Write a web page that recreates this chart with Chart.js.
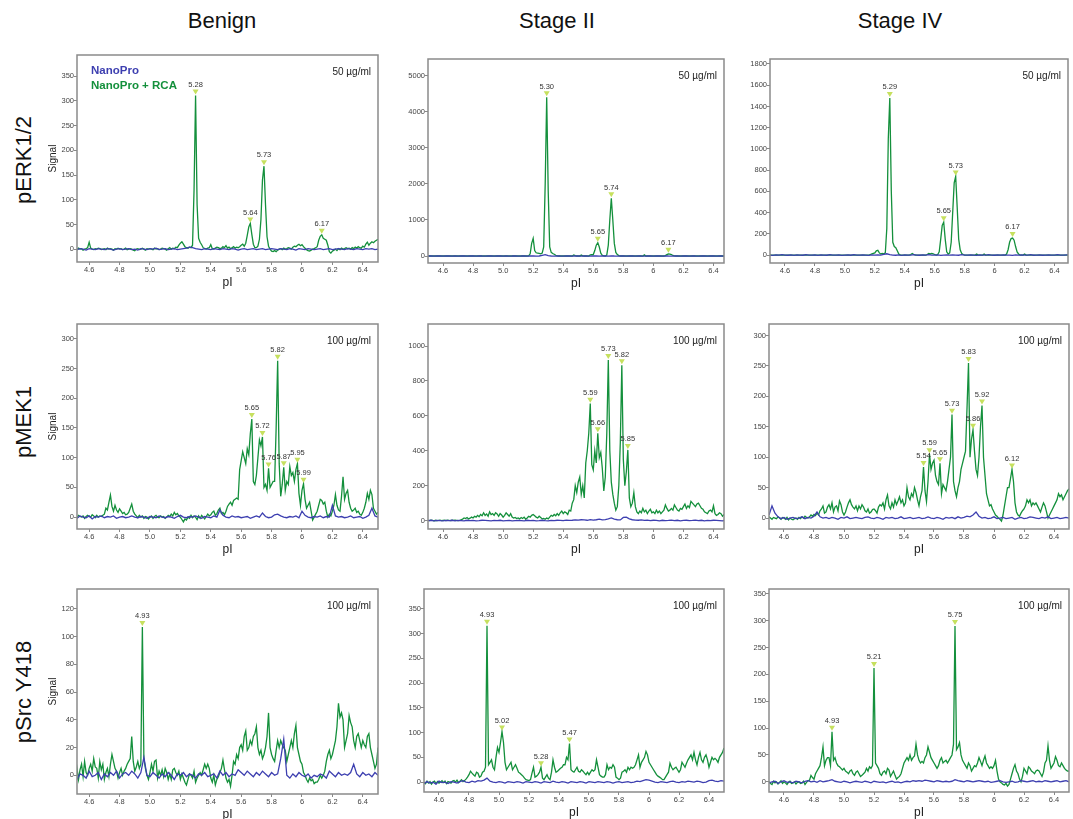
<!DOCTYPE html>
<html>
<head>
<meta charset="utf-8">
<title>NanoPro pI profiles</title>
<script src="https://cdn.jsdelivr.net/npm/chart.js@4.4.1/dist/chart.umd.min.js"></script>
<style>
  html, body { margin: 0; padding: 0; background: #fff; }
  body { position: relative; width: 1073px; height: 819px; overflow: hidden; font-family: "Liberation Sans", Arial, sans-serif; }
  .col-title { position: absolute; top: 8px; font-size: 22px; color: #111; transform: translateX(-50%); white-space: nowrap; }
  .row-title { position: absolute; left: 24px; font-size: 22px; color: #111; white-space: nowrap; transform: translate(-50%, -50%) rotate(-90deg); }
  canvas { position: absolute; }
</style>
</head>
<body>
<script>
// sampling grid of the traces (pI)
const pI = [
  4.50,4.51,4.52,4.53,4.54,4.55,4.56,4.57,4.58,4.59,
  4.60,4.61,4.62,4.63,4.64,4.65,4.66,4.67,4.68,4.69,
  4.70,4.71,4.72,4.73,4.74,4.75,4.76,4.77,4.78,4.79,
  4.80,4.81,4.82,4.83,4.84,4.85,4.86,4.87,4.88,4.89,
  4.90,4.91,4.92,4.93,4.94,4.95,4.96,4.97,4.98,4.99,
  5.00,5.01,5.02,5.03,5.04,5.05,5.06,5.07,5.08,5.09,
  5.10,5.11,5.12,5.13,5.14,5.15,5.16,5.17,5.18,5.19,
  5.20,5.21,5.22,5.23,5.24,5.25,5.26,5.27,5.28,5.29,
  5.30,5.31,5.32,5.33,5.34,5.35,5.36,5.37,5.38,5.39,
  5.40,5.41,5.42,5.43,5.44,5.45,5.46,5.47,5.48,5.49,
  5.50,5.51,5.52,5.53,5.54,5.55,5.56,5.57,5.58,5.59,
  5.60,5.61,5.62,5.63,5.64,5.65,5.66,5.67,5.68,5.69,
  5.70,5.71,5.72,5.73,5.74,5.75,5.76,5.77,5.78,5.79,
  5.80,5.81,5.82,5.83,5.84,5.85,5.86,5.87,5.88,5.89,
  5.90,5.91,5.92,5.93,5.94,5.95,5.96,5.97,5.98,5.99,
  6.00,6.01,6.02,6.03,6.04,6.05,6.06,6.07,6.08,6.09,
  6.10,6.11,6.12,6.13,6.14,6.15,6.16,6.17,6.18,6.19,
  6.20,6.21,6.22,6.23,6.24,6.25,6.26,6.27,6.28,6.29,
  6.30,6.31,6.32,6.33,6.34,6.35,6.36,6.37,6.38,6.39,
  6.40,6.41,6.42,6.43,6.44,6.45,6.46,6.47,6.48,6.49,
  6.50
];
// coarser grid for the NanoPro-only traces
const pINano = [
  4.50,4.52,4.54,4.56,4.58,4.60,4.62,4.64,4.66,4.68,
  4.70,4.72,4.74,4.76,4.78,4.80,4.82,4.84,4.86,4.88,
  4.90,4.92,4.94,4.96,4.98,5.00,5.02,5.04,5.06,5.08,
  5.10,5.12,5.14,5.16,5.18,5.20,5.22,5.24,5.26,5.28,
  5.30,5.32,5.34,5.36,5.38,5.40,5.42,5.44,5.46,5.48,
  5.50,5.52,5.54,5.56,5.58,5.60,5.62,5.64,5.66,5.68,
  5.70,5.72,5.74,5.76,5.78,5.80,5.82,5.84,5.86,5.88,
  5.90,5.92,5.94,5.96,5.98,6.00,6.02,6.04,6.06,6.08,
  6.10,6.12,6.14,6.16,6.18,6.20,6.22,6.24,6.26,6.28,
  6.30,6.32,6.34,6.36,6.38,6.40,6.42,6.44,6.46,6.48,
  6.50
];

const columnNames = ['Benign', 'Stage II', 'Stage IV'];
const rowNames = ['pERK1/2', 'pMEK1', 'pSrc Y418'];
const seriesNames = ['NanoPro', 'NanoPro + RCA'];
const concentrations = ['50 µg/ml', '100 µg/ml', '100 µg/ml'];
const xTickValues = [4.6, 4.8, 5.0, 5.2, 5.4, 5.6, 5.8, 6.0, 6.2, 6.4];
const xTickLabels = ['4.6', '4.8', '5.0', '5.2', '5.4', '5.6', '5.8', '6', '6.2', '6.4'];

// ---- pERK1/2 ----
const erkBenignRca = [
  0,1,-1,2,0,1,-2,0,1,3,
  14,2,0,-1,1,0,2,1,-1,0,
  1,-1,2,0,1,0,-2,1,0,2,
  0,1,-1,0,2,-1,0,1,0,-2,
  -3,0,1,-1,0,2,0,-2,1,0,
  1,0,-1,2,0,1,-1,0,2,1,
  0,-2,1,3,0,2,1,4,3,8,
  12,15,10,5,3,2,4,3,8,120,
  311,90,22,14,9,3,1,0,2,3,
  9,1,0,2,4,3,1,2,5,3,
  7,2,4,1,3,5,2,4,3,5,
  8,10,6,12,28,45,52,30,10,3,
  3,6,20,60,140,168,90,25,6,0,
  -4,-5,-3,-5,-2,0,1,-1,2,0,
  1,3,2,0,4,6,5,8,10,7,
  9,5,2,-1,-3,-4,-2,0,1,3,
  5,18,26,29,22,20,18,8,-5,-8,
  -4,-2,0,-3,1,-1,2,0,1,3,
  1,2,0,3,1,4,2,5,3,2,
  6,4,10,14,8,12,15,13,16,18,
  20
];
const erkBenignNano = [
  0,-1,1,0,-2,1,0,-1,1,0,
  -1,1,0,-2,0,1,-1,0,1,-1,
  0,-2,1,0,-1,1,0,2,-1,0,
  1,-1,0,1,-1,0,1,2,4,3,
  1,0,-1,1,0,-1,1,0,-1,1,
  0,-1,1,0,-2,0,1,-1,0,1,
  -1,0,1,-1,0,1,0,-1,1,0,
  -1,1,0,-2,1,0,-1,1,0,-1,
  0,1,-1,0,1,-1,0,1,0,-1,
  1,0,-1,1,0,-1,1,0,1,-1,
  0
];
const erkBenignPeaks = [[5.30, '5.28'], [5.66, '5.64'], [5.75, '5.73'], [6.13, '6.17']];

const erkStage2Rca = [
  0,0,0,0,0,0,0,0,0,0,
  0,0,0,0,0,0,0,0,0,0,
  0,0,0,0,0,0,0,0,0,0,
  0,0,0,0,0,0,0,0,0,0,
  0,0,0,0,0,0,0,0,0,0,
  0,0,0,0,0,0,0,0,0,0,
  0,0,0,0,0,0,0,5,60,350,
  490,150,90,80,70,60,80,250,2000,4400,
  1800,250,100,70,50,20,5,0,0,0,
  0,0,0,0,0,0,0,30,10,0,
  0,0,25,5,0,0,0,0,30,35,
  40,150,300,370,250,80,20,5,0,30,
  300,1000,1600,1000,350,100,40,10,0,0,
  0,0,0,0,0,0,0,0,0,0,
  0,0,0,0,30,0,0,0,0,0,
  0,0,0,0,0,0,0,0,10,40,
  60,55,40,15,5,0,0,0,0,0,
  0,0,0,0,0,0,0,0,0,0,
  0,0,0,0,0,0,0,0,0,0,
  0,0,0,0,0,0,0,0,0,0,
  0
];
const erkStage2Nano = [
  0,5,-4,3,0,-5,4,0,-3,5,
  -2,4,0,-5,3,0,-4,5,0,-3,
  4,0,-5,3,0,-4,5,-2,0,4,
  -3,0,5,-4,0,3,-5,0,20,40,
  10,0,-4,5,0,-3,4,0,-5,3,
  0,-4,5,0,-3,4,0,-5,3,0,
  -4,5,0,-3,4,0,-5,3,0,-4,
  5,0,-3,4,0,-5,3,0,-4,5,
  0,-3,4,0,-5,3,0,-4,5,0,
  -3,4,0,-5,3,0,-4,5,0,-3,
  0
];
const erkStage2Peaks = [[5.29, '5.30'], [5.63, '5.65'], [5.72, '5.74'], [6.10, '6.17']];

const erkStage4Rca = [
  0,0,0,0,0,0,0,0,0,0,
  0,0,0,0,0,0,0,0,0,0,
  0,0,0,0,0,0,0,0,0,0,
  0,0,0,0,0,0,0,0,0,0,
  0,0,0,0,0,0,0,0,0,0,
  0,0,0,0,0,0,0,0,0,0,
  0,0,0,0,0,0,0,5,10,15,
  20,40,45,20,10,15,12,20,250,1100,
  1480,600,120,80,70,40,10,0,0,0,
  0,0,0,0,5,15,5,0,0,0,
  0,0,0,0,0,5,15,10,15,10,
  5,0,5,30,150,280,310,150,30,10,
  20,120,400,680,740,450,150,50,15,5,
  0,0,0,0,0,0,0,0,10,0,
  0,0,0,10,0,0,0,0,0,0,
  0,0,0,0,0,0,0,0,10,50,
  120,155,160,140,80,30,10,0,0,0,
  10,0,0,0,0,0,0,0,0,0,
  0,0,0,0,0,0,0,0,0,0,
  0,0,0,0,0,0,0,0,0,0,
  0
];
const erkStage4Nano = [
  0,-3,2,-1,3,0,-2,1,-3,2,
  0,-2,3,-1,0,2,-3,1,0,-2,
  3,0,-1,2,-3,0,1,-2,3,0,
  -1,2,0,-3,1,0,2,-1,6,12,
  4,0,-2,1,-3,2,0,-1,3,0,
  -2,1,0,3,-1,0,2,-3,0,1,
  -1,2,0,-2,3,0,-1,1,0,-3,
  2,0,-1,3,0,-2,1,0,2,-1,
  0,-3,1,0,2,-1,0,3,-2,0,
  1,-2,0,2,-1,0,3,-1,0,2,
  0
];
const erkStage4Peaks = [[5.30, '5.29'], [5.66, '5.65'], [5.74, '5.73'], [6.12, '6.17']];

// ---- pMEK1 ----
const mekBenignRca = [
  0,2,-1,3,1,0,2,-2,1,3,
  1,0,4,2,-1,3,0,2,1,3,
  5,15,12,25,37,18,10,20,12,8,
  14,10,6,8,4,5,8,15,22,10,
  5,2,-1,3,0,2,-2,1,0,-3,
  0,2,-2,1,3,0,-1,2,0,1,
  -2,0,3,1,5,2,8,4,6,2,
  0,-4,-8,-3,-5,0,-2,3,-1,2,
  0,-4,2,-2,3,0,-3,1,5,2,
  4,8,10,3,6,12,15,6,8,4,
  10,18,22,25,20,28,30,32,30,80,
  95,110,100,90,115,105,140,165,60,55,
  70,100,130,120,135,50,55,45,82,50,
  55,60,60,150,263,90,35,55,84,45,
  60,55,85,70,75,60,80,90,40,20,
  45,56,30,15,20,25,10,-5,0,5,
  10,20,30,28,22,25,10,0,5,2,
  10,20,38,20,12,10,35,68,30,40,
  45,25,15,10,12,15,8,10,5,3,
  8,15,25,40,30,45,38,15,10,5,
  8
];
const mekBenignNano = [
  1,-2,2,0,-1,2,-3,1,0,2,
  -1,1,0,2,-2,0,1,-1,0,2,
  0,-1,1,0,-2,1,0,-1,2,0,
  -1,1,0,-2,1,3,0,-1,1,0,
  2,0,-2,1,0,-1,2,0,12,3,
  0,-1,2,0,1,-1,0,1,-2,0,
  2,0,7,1,-1,0,4,5,2,0,
  -1,1,0,2,-1,10,3,0,-1,1,
  0,2,-1,1,0,20,2,0,1,-1,
  0,2,-1,0,1,-2,0,3,15,2,
  0
];
const mekBenignPeaks = [[5.67, '5.65'], [5.74, '5.72'], [5.78, '5.76'], [5.84, '5.82'], [5.88, '5.87'], [5.97, '5.95'], [6.01, '5.99']];

const mekStage2Rca = [
  2,0,3,1,-1,2,0,1,3,0,
  1,2,0,3,1,0,2,1,3,2,
  0,2,5,8,15,12,18,10,14,20,
  15,25,20,30,22,35,28,45,30,38,
  25,50,35,40,30,45,38,25,40,32,
  20,30,45,35,25,40,20,15,18,12,
  15,10,18,12,20,8,15,25,20,30,
  35,28,20,15,25,18,10,12,8,15,
  10,20,30,25,35,28,40,30,45,55,
  40,50,45,35,60,55,100,120,200,160,
  220,250,150,200,130,330,400,500,670,320,
  290,400,330,500,360,390,300,170,250,500,
  920,400,220,150,100,60,80,200,450,890,
  350,200,280,405,130,80,100,160,80,50,
  40,55,45,70,50,60,40,55,65,45,
  50,40,60,45,55,40,50,60,90,70,
  55,60,70,60,90,75,60,55,70,65,
  80,95,70,85,75,110,100,90,80,95,
  100,85,70,65,50,45,40,55,60,50,
  85,40,30,35,45,40,25,35,30,40,
  35
];
const mekStage2Nano = [
  0,2,-1,1,0,-2,1,0,2,-1,
  1,0,-1,2,0,1,-1,0,2,1,
  0,-1,1,0,2,-1,0,1,-2,0,
  1,0,-1,2,0,1,-1,0,2,0,
  -1,1,0,2,1,0,3,1,2,4,
  3,5,4,2,6,3,5,8,4,6,
  10,15,8,5,4,18,20,10,5,3,
  2,4,1,3,0,2,1,-1,2,0,
  1,3,0,2,-1,1,2,0,1,3,
  0,2,-1,1,0,2,1,0,-1,2,
  0
];
const mekStage2Peaks = [[5.58, '5.59'], [5.63, '5.66'], [5.70, '5.73'], [5.79, '5.82'], [5.83, '5.85']];

const mekStage4Rca = [
  2,0,-2,1,0,-1,2,0,-2,1,
  0,-2,1,-3,0,-2,-3,-1,0,-2,
  1,-1,2,0,3,1,0,2,5,3,
  6,4,8,5,12,15,20,8,10,18,
  22,15,25,10,18,20,12,28,22,10,
  5,10,18,25,30,22,18,15,20,12,
  20,15,22,18,12,10,15,8,10,14,
  15,12,8,18,22,20,25,15,30,38,
  20,15,25,18,30,22,28,35,25,30,
  20,25,50,35,30,40,35,50,42,30,
  20,35,45,84,45,27,60,105,80,90,
  95,70,60,55,90,40,55,50,45,60,
  80,100,170,60,45,35,50,60,80,90,
  100,110,180,255,100,130,145,110,80,70,
  100,150,185,100,70,40,30,20,22,15,
  10,5,3,0,-2,-5,5,20,35,50,
  50,65,80,60,25,10,5,3,8,12,
  15,20,30,25,30,20,25,22,25,20,
  15,10,18,25,20,10,0,5,10,15,
  20,25,30,40,35,38,30,35,40,45,
  48
];
const mekStage4Nano = [
  5,20,8,2,-1,1,-2,0,1,-1,
  0,2,-1,1,0,3,10,2,0,1,
  -1,1,0,-2,1,0,2,-1,0,1,
  0,-1,1,2,0,-1,1,0,-2,1,
  0,1,-1,0,2,-1,0,1,-1,0,
  1,-1,0,2,0,-1,1,0,-2,1,
  0,1,-1,2,0,1,3,2,5,10,
  3,0,1,-1,0,2,-1,0,1,-1,
  0,1,-2,0,1,-1,0,2,1,0,
  -1,1,0,2,-1,0,1,-1,0,1,
  0
];
const mekStage4Peaks = [[5.53, '5.54'], [5.57, '5.59'], [5.64, '5.65'], [5.72, '5.73'], [5.83, '5.83'], [5.86, '5.86'], [5.92, '5.92'], [6.12, '6.12']];

// ---- pSrc Y418 ----
const srcBenignRca = [
  3,-2,5,-3,4,8,-1,10,2,0,
  5,8,3,12,6,5,-2,10,4,8,
  -3,2,5,-1,8,15,10,5,3,-2,
  2,5,0,3,5,8,10,12,28,10,
  3,6,10,5,8,107,12,5,0,-3,
  2,8,3,10,11,-2,3,0,4,-1,
  5,2,-3,1,-3,4,5,2,0,3,
  -3,1,-2,-5,-7,-3,1,0,-2,3,
  -5,-2,0,2,0,4,8,5,8,5,
  -2,-5,0,-7,-3,-1,2,5,11,4,
  -2,-5,-3,-8,0,10,8,15,12,20,
  22,18,28,32,18,20,25,22,28,30,
  35,20,15,18,12,15,20,28,45,20,
  15,12,10,18,25,20,25,22,20,18,
  10,15,20,25,20,30,36,20,15,10,
  8,2,0,-3,-5,-2,-4,-3,-6,-5,
  -5,-3,0,-2,0,3,10,15,18,12,
  15,20,25,35,52,42,45,40,20,25,
  30,43,38,35,25,20,28,30,25,20,
  25,22,20,28,30,20,15,10,5,8,
  20
];
const srcBenignNano = [
  2,-3,1,0,-2,3,-1,0,2,-3,
  1,-1,2,0,3,-2,1,2,0,3,
  1,-2,2,13,0,-1,2,0,-2,1,
  -1,2,0,-3,1,0,2,-1,1,0,
  -2,1,0,2,-1,0,1,-2,3,0,
  2,-1,1,0,4,2,0,3,1,-1,
  2,0,3,1,-1,2,0,1,12,26,
  0,-2,1,-1,2,0,-1,1,-2,0,
  -1,1,0,-2,3,1,-1,2,0,1,
  0,2,8,1,-1,2,0,1,-1,2,
  0
];
const srcBenignPeaks = [[4.95, '4.93']];

const srcStage2Rca = [
  0,-3,2,-2,1,-4,0,2,-3,1,
  -2,0,3,-1,2,-3,1,0,-2,2,
  3,0,4,-1,2,5,1,3,6,10,
  15,22,18,15,12,20,18,10,12,20,
  22,30,316,35,40,45,30,25,50,70,
  60,80,102,80,40,25,30,35,40,25,
  30,35,28,20,18,15,12,8,5,4,
  3,5,18,30,10,12,15,20,30,8,
  5,10,15,8,5,20,45,30,20,22,
  25,28,30,35,35,50,45,78,25,22,
  20,25,30,22,20,25,22,18,15,20,
  15,20,25,22,25,45,30,15,12,10,
  10,15,35,25,30,28,35,30,10,8,
  5,8,20,22,25,20,30,25,30,28,
  30,35,45,55,30,40,45,50,62,55,
  40,35,30,25,20,15,12,10,8,5,
  5,10,15,20,38,30,25,28,30,25,
  20,25,40,35,30,38,45,50,55,45,
  60,45,35,50,60,45,40,50,55,45,
  30,40,50,45,48,45,40,50,55,60,
  69
];
const srcStage2Nano = [
  -3,1,-2,0,-4,2,-1,0,-3,1,
  0,-2,1,3,0,-1,2,0,3,2,
  4,8,2,0,-1,1,0,-2,1,0,
  -1,1,0,-2,1,0,-1,1,0,-2,
  1,0,-1,2,0,-1,1,0,-2,1,
  0,-1,1,0,-2,1,0,-1,1,0,
  -1,1,0,-2,0,1,-1,0,1,-1,
  0,2,1,3,5,4,2,0,-1,1,
  0,-1,1,2,0,-1,1,0,2,1,
  0,2,1,-1,0,3,4,2,1,3,
  2
];
const srcStage2Peaks = [[4.92, '4.93'], [5.02, '5.02'], [5.28, '5.28'], [5.47, '5.47']];

const srcStage4Rca = [
  0,-3,-5,1,-2,0,-4,-1,2,-3,
  0,-2,-5,-1,1,-3,-2,0,-4,-1,
  0,-3,-2,1,-5,-1,2,3,12,8,
  5,15,20,25,30,45,65,30,40,45,
  45,30,93,40,45,35,30,28,25,22,
  25,20,18,15,20,22,15,12,18,20,
  15,10,12,15,18,25,20,28,25,30,
  212,35,30,25,15,12,18,20,15,25,
  22,10,15,20,12,5,8,10,15,25,
  35,40,45,40,50,40,45,48,70,50,
  40,35,38,35,45,50,65,55,45,40,
  35,30,25,30,40,45,35,38,40,35,
  40,45,50,70,290,60,65,73,50,40,
  35,30,25,35,30,20,25,30,28,35,
  45,38,30,40,48,35,30,25,28,25,
  30,40,20,5,0,-2,-5,-6,-3,-8,
  -5,5,15,25,32,20,15,5,0,10,
  25,20,15,28,25,20,18,15,20,22,
  20,15,10,18,35,40,67,40,25,30,
  35,47,40,30,28,35,30,25,22,20,
  20
];
const srcStage4Nano = [
  -2,0,1,-3,0,2,-1,0,-2,1,
  0,-2,1,2,0,1,-1,2,0,1,
  2,4,1,0,-1,1,0,-2,0,1,
  0,-1,1,0,-2,1,0,-1,0,-2,
  0,1,-1,0,-2,0,1,0,2,1,
  2,1,3,2,1,0,2,1,0,1,
  0,1,4,2,1,0,2,1,0,1,
  2,1,0,1,-1,0,1,2,0,-1,
  0,1,-1,0,2,1,0,1,2,0,
  1,0,2,1,0,1,2,0,1,2,
  0
];
const srcStage4Peaks = [[4.92, '4.93'], [5.20, '5.21'], [5.74, '5.75']];

// y tick labels
const yTicks350 = [0, 50, 100, 150, 200, 250, 300, 350];
const yTicks5000 = [0, 1000, 2000, 3000, 4000, 5000];
const yTicks1800 = [0, 200, 400, 600, 800, 1000, 1200, 1400, 1600, 1800];
const yTicks300 = [0, 50, 100, 150, 200, 250, 300];
const yTicks1000 = [0, 200, 400, 600, 800, 1000];
const yTicks120 = [0, 20, 40, 60, 80, 100, 120];

const FONT = '"Liberation Sans", Arial, sans-serif';
const BLUE = '#3d3fb0';
const GREEN = '#14903c';
Chart.defaults.font.family = FONT;

// frame = [left, top, right, bottom] of each plot box on the page
const panels = [
  { rca: erkBenignRca, nano: erkBenignNano, peaks: erkBenignPeaks, yTicks: yTicks350, frame: [77, 55, 378, 262], xr: [4.52, 6.5], yr: [-26, 393] },
  { rca: erkStage2Rca, nano: erkStage2Nano, peaks: erkStage2Peaks, yTicks: yTicks5000, frame: [428, 59, 724, 263], xr: [4.5, 6.47], yr: [-194, 5463] },
  { rca: erkStage4Rca, nano: erkStage4Nano, peaks: erkStage4Peaks, yTicks: yTicks1800, frame: [770, 59, 1068, 263], xr: [4.5, 6.49], yr: [-75, 1847] },
  { rca: mekBenignRca, nano: mekBenignNano, peaks: mekBenignPeaks, yTicks: yTicks300, frame: [77, 324, 378, 529], xr: [4.52, 6.5], yr: [-20, 325] },
  { rca: mekStage2Rca, nano: mekStage2Nano, peaks: mekStage2Peaks, yTicks: yTicks1000, frame: [428, 324, 724, 529], xr: [4.5, 6.47], yr: [-48, 1126] },
  { rca: mekStage4Rca, nano: mekStage4Nano, peaks: mekStage4Peaks, yTicks: yTicks300, frame: [769, 324, 1069, 529], xr: [4.5, 6.5], yr: [-18, 319] },
  { rca: srcBenignRca, nano: srcBenignNano, peaks: srcBenignPeaks, yTicks: yTicks120, frame: [77, 589, 378, 794], xr: [4.52, 6.5], yr: [-13.5, 134.4] },
  { rca: srcStage2Rca, nano: srcStage2Nano, peaks: srcStage2Peaks, yTicks: yTicks350, frame: [424, 589, 724, 792], xr: [4.5, 6.5], yr: [-20, 390] },
  { rca: srcStage4Rca, nano: srcStage4Nano, peaks: srcStage4Peaks, yTicks: yTicks350, frame: [769, 589, 1069, 792], xr: [4.5, 6.5], yr: [-19, 359] }
];

// headers
[222, 557, 900].forEach(function (cx, i) {
  const d = document.createElement('div');
  d.className = 'col-title';
  d.style.left = cx + 'px';
  d.textContent = columnNames[i];
  document.body.appendChild(d);
});
[160, 422, 692].forEach(function (cy, i) {
  const d = document.createElement('div');
  d.className = 'row-title';
  d.style.top = cy + 'px';
  d.textContent = rowNames[i];
  document.body.appendChild(d);
});

// frame, peak markers, legend and concentration text
const decor = {
  id: 'decor',
  afterDatasetsDraw(chart, args, opts) {
    const ctx = chart.ctx, a = chart.chartArea;
    const xs = chart.scales.x, ys = chart.scales.y;
    const p = panels[opts.index];
    ctx.save();
    // peaks
    ctx.font = '7.5px ' + FONT;
    ctx.textAlign = 'center';
    ctx.textBaseline = 'bottom';
    p.peaks.forEach(function (pk) {
      const k = pI.findIndex(v => Math.abs(v - pk[0]) < 0.001);
      if (k < 0) return;
      const X = xs.getPixelForValue(pk[0]);
      const Y = ys.getPixelForValue(p.rca[k]);
      ctx.fillStyle = '#c6e05e';
      ctx.beginPath();
      ctx.moveTo(X - 3, Y - 6);
      ctx.lineTo(X + 3, Y - 6);
      ctx.lineTo(X, Y - 1);
      ctx.closePath();
      ctx.fill();
      ctx.fillStyle = '#333';
      ctx.fillText(pk[1], X, Y - 7);
    });
    // box
    ctx.strokeStyle = '#8a8a8a';
    ctx.lineWidth = 1.5;
    ctx.strokeRect(a.left, a.top, a.right - a.left, a.bottom - a.top);
    // concentration
    ctx.fillStyle = '#222';
    ctx.font = '10px ' + FONT;
    ctx.textAlign = 'right';
    ctx.textBaseline = 'middle';
    ctx.fillText(concentrations[Math.floor(opts.index / 3)], a.right - 7, a.top + 17);
    // legend in first panel
    if (opts.index === 0) {
      ctx.textAlign = 'left';
      ctx.font = 'bold 11.5px ' + FONT;
      chart.data.datasets.forEach(function (ds, j) {
        ctx.fillStyle = ds.borderColor;
        ctx.fillText(ds.label, a.left + 14, a.top + 16 + j * 14.5);
      });
    }
    ctx.restore();
  }
};

const YW = 30, XH = 32, PADT = 10, PADR = 6;

panels.forEach(function (p, i) {
  const f = p.frame;
  const w = f[2] - f[0] + YW + PADR;
  const h = f[3] - f[1] + PADT + XH;
  const cv = document.createElement('canvas');
  cv.width = w;
  cv.height = h;
  cv.style.left = (f[0] - YW) + 'px';
  cv.style.top = (f[1] - PADT) + 'px';
  cv.style.width = w + 'px';
  cv.style.height = h + 'px';
  document.body.appendChild(cv);

  new Chart(cv, {
    type: 'line',
    data: {
      datasets: [
        {
          label: seriesNames[0],
          data: pINano.map((x, k) => ({ x: x, y: p.nano[k] })),
          borderColor: BLUE,
          borderWidth: 1.3,
          pointRadius: 0,
          tension: 0
        },
        {
          label: seriesNames[1],
          data: pI.map((x, k) => ({ x: x, y: p.rca[k] })),
          borderColor: GREEN,
          borderWidth: 1.3,
          pointRadius: 0,
          tension: 0
        }
      ]
    },
    options: {
      responsive: false,
      animation: false,
      devicePixelRatio: 1,
      layout: { padding: { top: PADT, right: PADR, left: 0, bottom: 0 } },
      plugins: {
        legend: { display: false },
        tooltip: { enabled: false },
        decor: { index: i }
      },
      scales: {
        x: {
          type: 'linear',
          min: p.xr[0],
          max: p.xr[1],
          afterBuildTicks: s => { s.ticks = xTickValues.map(v => ({ value: v })); },
          afterFit: s => { s.height = XH; },
          ticks: {
            autoSkip: false,
            maxRotation: 0,
            padding: 0,
            color: '#444',
            font: { size: 7.5 },
            callback: (v, k) => xTickLabels[k]
          },
          grid: { drawOnChartArea: false, drawTicks: true, tickLength: 3, color: '#888' },
          border: { display: false },
          title: { display: true, text: 'pI', color: '#222', font: { size: 12 }, padding: { top: 4, bottom: 4 } }
        },
        y: {
          min: p.yr[0],
          max: p.yr[1],
          afterBuildTicks: s => { s.ticks = p.yTicks.map(v => ({ value: v })); },
          afterFit: s => { s.width = YW; },
          ticks: {
            padding: 0,
            color: '#444',
            font: { size: 7.5 },
            callback: v => String(v)
          },
          grid: { drawOnChartArea: false, drawTicks: true, tickLength: 3, color: '#888' },
          border: { display: false },
          title: { display: i % 3 === 0, text: 'Signal', color: '#222', font: { size: 10 }, padding: { top: 0, bottom: 0 } }
        }
      }
    },
    plugins: [decor]
  });
});
</script>
</body>
</html>
